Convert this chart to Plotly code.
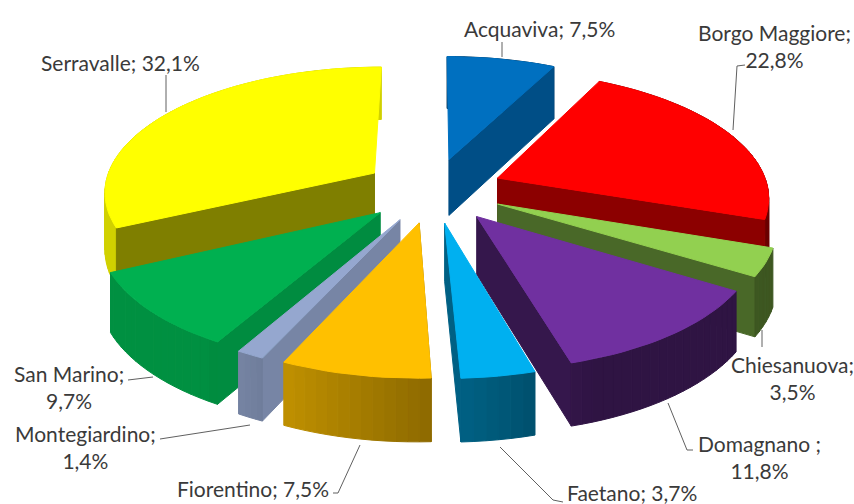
import math
import plotly.graph_objects as go

categories = ["Acquaviva", "Borgo Maggiore", "Chiesanuova", "Domagnano", "Faetano",
              "Fiorentino", "Montegiardino", "San Marino", "Serravalle"]
values = [7.5, 22.8, 3.5, 11.8, 3.7, 7.5, 1.4, 9.7, 32.1]
colors = ["#0070c0", "#ff0000", "#92d050", "#7030a0", "#00b0f0",
          "#ffc000", "#95a7cf", "#00b050", "#ffff00"]
wall_shades = [0.7, 0.55, 0.5, 0.48, 0.55, 0.6, 0.8, 0.8, 0.5]
labels = ["Acquaviva; 7,5%", "Borgo Maggiore;<br>22,8%", "Chiesanuova;<br>3,5%", "Domagnano ;<br>11,8%",
          "Faetano; 3,7%", "Fiorentino; 7,5%", "Montegiardino;<br>1,4%", "San Marino;<br>9,7%", "Serravalle; 32,1%"]

CX, CY = 433, 190
A, B, K = 271, 124.5, 0.135
EXPLODE, DEPTH = 0.26, 57


def project(u, v):
    s = 1 / (1 + K * v)
    return CX + A * u * s, CY - B * v * s, DEPTH * s ** 0.6


def shade(hex_color, f):
    r, g, b = (int(hex_color[i:i + 2], 16) for i in (1, 3, 5))
    return f"rgb({int(r * f)},{int(g * f)},{int(b * f)})"


def arc_factor(t):
    return max(0.42, min(0.82, 0.55 + (t - 177) * 0.0074))


fig = go.Figure()


def poly(xs, ys, color):
    fig.add_trace(go.Scatter(x=xs, y=ys, mode="lines", fill="toself", fillcolor=color,
                             line=dict(width=1, color=color), hoverinfo="skip", showlegend=False))


wedges = []
start = 0.0
total = sum(values)
for val, col, ws in zip(values, colors, wall_shades):
    end = start + val / total * 360
    wedges.append((start, end, col, ws))
    start = end

# paint back wedges first
order = sorted(range(len(wedges)),
               key=lambda i: math.cos(math.radians((wedges[i][0] + wedges[i][1]) / 2)), reverse=True)

for i in order:
    t0, t1, col, ws = wedges[i]
    mid = math.radians((t0 + t1) / 2)
    ou, ov = EXPLODE * math.sin(mid), EXPLODE * math.cos(mid)
    steps = max(4, int((t1 - t0) / 2))
    ts = [t0 + (t1 - t0) * n / steps for n in range(steps + 1)]
    pts = [project(ou + math.sin(math.radians(t)), ov + math.cos(math.radians(t))) for t in ts]
    apex = project(ou, ov)

    def radial_wall():
        # only the cut face turned towards the viewer is drawn
        p = pts[-1] if ou > 0 else pts[0]
        poly([apex[0], p[0], p[0], apex[0], apex[0]],
             [apex[1], p[1], p[1] + p[2], apex[1] + apex[2], apex[1]], shade(col, ws))

    def outer_wall():
        for n in range(steps):
            a, b = pts[n], pts[n + 1]
            poly([a[0], b[0], b[0], a[0], a[0]], [a[1], b[1], b[1] + b[2], a[1] + a[2], a[1]],
                 shade(col, arc_factor((ts[n] + ts[n + 1]) / 2)))

    if ov > 0:
        outer_wall()
        radial_wall()
    else:
        radial_wall()
        outer_wall()
    poly([apex[0]] + [p[0] for p in pts] + [apex[0]],
         [apex[1]] + [p[1] for p in pts] + [apex[1]], col)

label_pos = [(539, 28), (774, 46), (792, 378), (759, 457), (632, 492),
             (253, 488), (85, 447), (69, 387), (120, 62)]
leaders = [[(502, 42), (502, 57)],
           [(745, 65), (737, 66), (733, 130)],
           [(762, 330), (762, 347)],
           [(693, 450), (687, 450), (668, 403)],
           [(563, 502), (553, 500), (500, 447)],
           [(333, 493), (338, 493), (360, 445)],
           [(160, 439), (250, 425)],
           [(128, 380), (153, 377)],
           [(166, 75), (166, 112)]]

for (x, y), txt in zip(label_pos, labels):
    fig.add_annotation(x=x, y=y, text=txt, showarrow=False, xanchor="center", yanchor="middle",
                       font=dict(family="Lato, Carlito, sans-serif", size=21, color="#3a3a3a"))
for seg in leaders:
    fig.add_trace(go.Scatter(x=[p[0] for p in seg], y=[p[1] for p in seg], mode="lines",
                             line=dict(color="#606060", width=1), hoverinfo="skip", showlegend=False))

fig.update_layout(width=854, height=504, margin=dict(l=0, r=0, t=0, b=0),
                  paper_bgcolor="white", plot_bgcolor="white",
                  xaxis=dict(range=[0, 854], visible=False),
                  yaxis=dict(range=[504, 0], visible=False))
fig.write_html("out.html", config={"displayModeBar": False},
               post_script="document.body.style.margin='0';document.documentElement.style.overflow='hidden';")
